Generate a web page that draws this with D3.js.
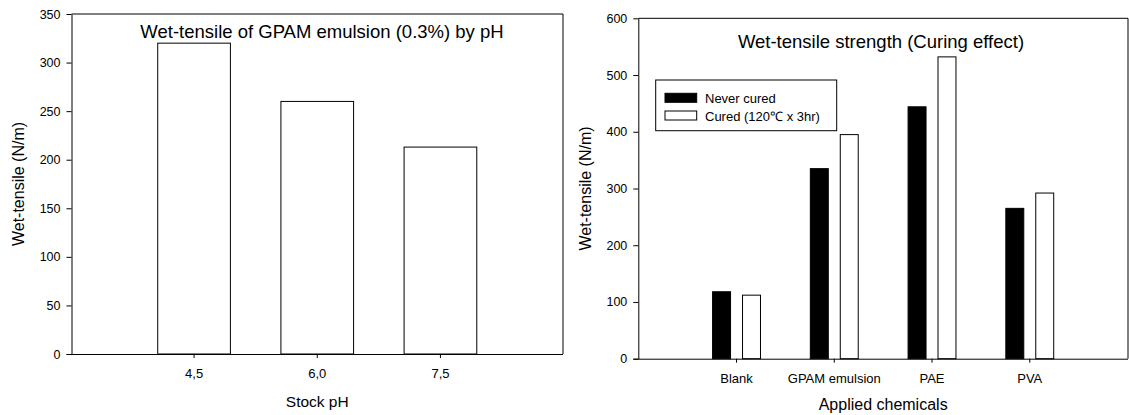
<!DOCTYPE html>
<html>
<head>
<meta charset="utf-8">
<script src="https://cdn.jsdelivr.net/npm/d3@7"></script>
<style>
	body { margin: 0; background: white; }
	svg text { font-family: "Liberation Sans", Arial, sans-serif; fill: black; }
</style>
</head>
<body>
<svg id="chart" width="1129" height="415"></svg>
<script>
// left panel: wet-tensile by stock pH
var phLabels = ["4,5", "6,0", "7,5"];
var phValues = [320, 260, 213];
var phTicks = [0, 50, 100, 150, 200, 250, 300, 350];

// right panel: curing effect
var chemicals = ["Blank", "GPAM emulsion", "PAE", "PVA"];
var seriesNames = ["Never cured", "Cured (120\u2103 x 3hr)"];
var neverCured = [118, 335, 444, 265];
var cured = [112, 395, 532, 292];
var curingTicks = [0, 100, 200, 300, 400, 500, 600];

var svg = d3.select("#chart");
svg.append("rect").attr("width", 1129).attr("height", 415).attr("fill", "white");

function drawFrame(g, x0, x1, y0, y1) {
	g.append("path")
		.attr("d", "M" + x0 + "," + y0 + "H" + x1 + "V" + y1)
		.attr("fill", "none")
		.attr("stroke", "black")
		.attr("stroke-width", 1);
}

function yAxis(g, y, ticks, x0) {
	var ax = g.append("g")
		.attr("transform", "translate(" + x0 + ",0)")
		.call(d3.axisLeft(y).tickValues(ticks).tickSize(5).tickSizeOuter(0).tickPadding(6));
	ax.selectAll("text").style("font-size", "12.5px").style("font-family", "Liberation Sans, Arial, sans-serif");
	ax.select(".domain").attr("stroke-width", 1);
}

function xAxis(g, x, y0) {
	var ax = g.append("g")
		.attr("transform", "translate(0," + y0 + ")")
		.call(d3.axisBottom(x).tickSize(4).tickSizeOuter(0).tickPadding(11));
	ax.selectAll("text").style("font-size", "13px").style("font-family", "Liberation Sans, Arial, sans-serif");
	return ax;
}

// ---------- left chart ----------
var L = {left: 71.5, right: 563, top: 14, bottom: 354};
var gl = svg.append("g");

var xl = d3.scaleBand()
	.domain(phLabels)
	.range([L.left, L.right])
	.paddingInner(0.41)
	.paddingOuter(0.7);

var yl = d3.scaleLinear().domain([0, 350]).range([L.bottom, L.top]);

gl.selectAll("rect.bar")
	.data(phValues)
	.enter().append("rect")
	.attr("class", "bar")
	.attr("x", function (d, i) { return xl(phLabels[i]); })
	.attr("y", function (d) { return yl(d); })
	.attr("width", xl.bandwidth())
	.attr("height", function (d) { return yl(0) - yl(d); })
	.attr("fill", "white")
	.attr("stroke", "black")
	.attr("stroke-width", 1);

drawFrame(gl, L.left, L.right, L.top, L.bottom);
var axl = xAxis(gl, xl, L.bottom);
axl.select(".domain").attr("d", "M" + (L.left - 5) + ",0.5H" + L.right);
yAxis(gl, yl, phTicks, L.left);

gl.append("text")
	.attr("x", 322).attr("y", 37.7)
	.attr("text-anchor", "middle")
	.style("font-size", "18.5px")
	.text("Wet-tensile of GPAM emulsion (0.3%) by pH");

gl.append("text")
	.attr("x", (L.left + L.right) / 2).attr("y", 406.5)
	.attr("text-anchor", "middle")
	.style("font-size", "15.5px")
	.text("Stock pH");

gl.append("text")
	.attr("transform", "translate(23.5," + (L.top + L.bottom) / 2 + ") rotate(-90)")
	.attr("text-anchor", "middle")
	.style("font-size", "16px")
	.text("Wet-tensile (N/m)");

// ---------- right chart ----------
var R = {left: 638.3, right: 1128, top: 18.3, bottom: 358.7};
var gr = svg.append("g");

var x0 = d3.scaleBand()
	.domain(chemicals)
	.range([R.left, R.right])
	.paddingInner(0.51)
	.paddingOuter(0.76);

var x1 = d3.scaleBand()
	.domain(seriesNames)
	.range([0, x0.bandwidth()])
	.paddingInner(0.4);

var yr = d3.scaleLinear().domain([0, 600]).range([R.bottom, R.top]);
var color = d3.scaleOrdinal().domain(seriesNames).range(["black", "white"]);

var rows = chemicals.map(function (c, i) {
	return {name: c, values: [
		{key: seriesNames[0], value: neverCured[i]},
		{key: seriesNames[1], value: cured[i]}
	]};
});

var groups = gr.selectAll("g.grp")
	.data(rows)
	.enter().append("g")
	.attr("class", "grp")
	.attr("transform", function (d) { return "translate(" + x0(d.name) + ",0)"; });

groups.selectAll("rect")
	.data(function (d) { return d.values; })
	.enter().append("rect")
	.attr("x", function (d) { return x1(d.key); })
	.attr("y", function (d) { return yr(d.value); })
	.attr("width", x1.bandwidth())
	.attr("height", function (d) { return yr(0) - yr(d.value); })
	.attr("fill", function (d) { return color(d.key); })
	.attr("stroke", "black")
	.attr("stroke-width", 1);

drawFrame(gr, R.left, R.right, R.top, R.bottom);
var axr = xAxis(gr, x0, R.bottom);
axr.select(".domain").attr("d", "M" + (R.left - 5) + ",0.5H" + R.right);
yAxis(gr, yr, curingTicks, R.left);

gr.append("text")
	.attr("x", 881).attr("y", 48.3)
	.attr("text-anchor", "middle")
	.style("font-size", "18.5px")
	.text("Wet-tensile strength (Curing effect)");

gr.append("text")
	.attr("x", (R.left + R.right) / 2).attr("y", 410)
	.attr("text-anchor", "middle")
	.style("font-size", "16px")
	.text("Applied chemicals");

gr.append("text")
	.attr("transform", "translate(591," + (R.top + R.bottom) / 2 + ") rotate(-90)")
	.attr("text-anchor", "middle")
	.style("font-size", "16px")
	.text("Wet-tensile (N/m)");

// legend
var leg = gr.append("g").attr("transform", "translate(655.7,80)");
leg.append("rect")
	.attr("width", 181).attr("height", 50.7)
	.attr("fill", "white").attr("stroke", "black").attr("stroke-width", 1);

var li = leg.selectAll("g.item")
	.data(seriesNames)
	.enter().append("g")
	.attr("class", "item")
	.attr("transform", function (d, i) { return "translate(9.3," + (13.3 + i * 17.7) + ")"; });

li.append("rect")
	.attr("width", 31.7).attr("height", 9)
	.attr("fill", function (d) { return color(d); })
	.attr("stroke", "black").attr("stroke-width", 1);

li.append("text")
	.attr("x", 40).attr("y", 9.5)
	.style("font-size", "13px")
	.text(function (d) { return d; });
</script>
</body>
</html>
